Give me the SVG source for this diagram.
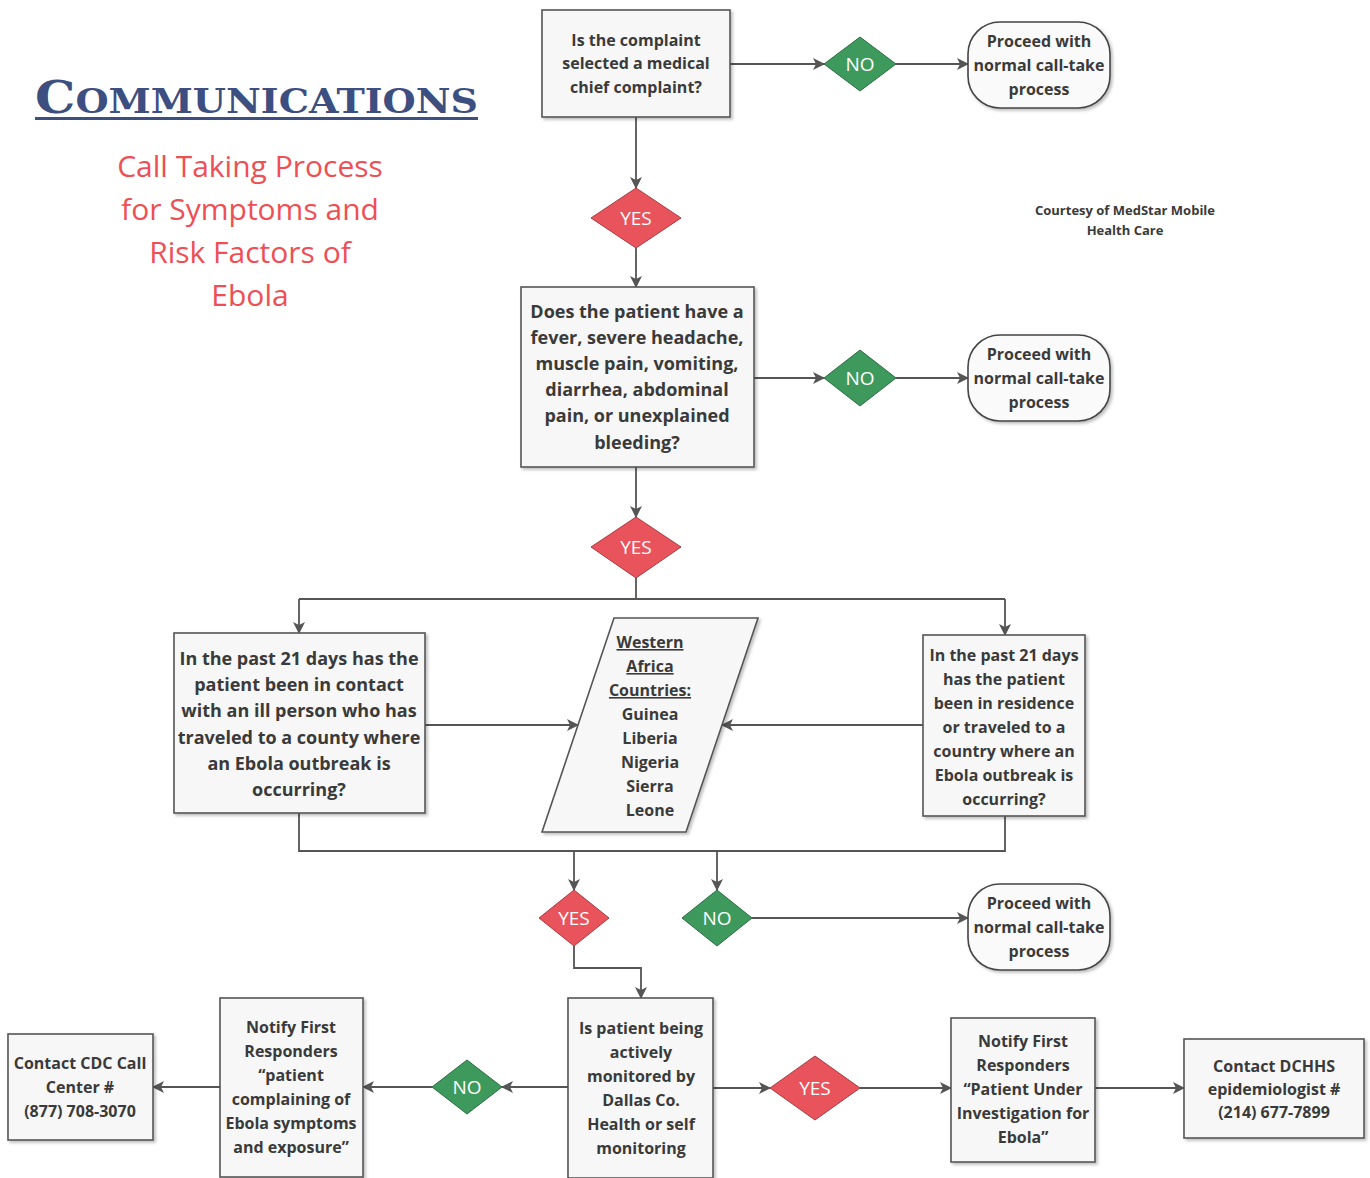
<svg xmlns="http://www.w3.org/2000/svg" width="1370" height="1178" viewBox="0 0 1370 1178">
<defs>
<marker id="ah" viewBox="0 0 12 12" refX="11" refY="6" markerWidth="12" markerHeight="12" markerUnits="userSpaceOnUse" orient="auto">
<path d="M0,0 L12,6 L0,12 L3,6 Z" fill="#555"/>
</marker>
<filter id="sh" x="-10%" y="-10%" width="125%" height="125%">
<feDropShadow dx="2" dy="2" stdDeviation="1.5" flood-color="#000" flood-opacity="0.25"/>
</filter>
</defs>
<style>
.box{fill:#f7f7f7;stroke:#555;stroke-width:1.6;filter:url(#sh)}
.term{fill:#fafafa;stroke:#444;stroke-width:1.6;filter:url(#sh)}
.t{font-family:"Open Sans","Noto Sans",sans-serif;font-weight:bold;fill:#3a3a3a;text-anchor:middle}
.s16{font-size:16px}
.s18{font-size:18px}
.g{fill:#3d9a5c;stroke:#2d6d45;stroke-width:1}
.r{fill:#e9545c;stroke:#a83a40;stroke-width:1}
.dt{font-family:"Open Sans","Noto Sans",sans-serif;font-size:19px;fill:#fff;text-anchor:middle}
.c{fill:none;stroke:#555;stroke-width:1.8}
.a{marker-end:url(#ah)}
.sub{font-family:"Open Sans","Noto Sans",sans-serif;font-size:30px;fill:#ee4f55;text-anchor:middle}
</style>
<rect width="1370" height="1178" fill="#fff"/>

<g id="title">
<text x="35" y="113" font-family="'DejaVu Serif','Liberation Serif',serif" font-weight="bold" fill="#3d4e80" textLength="443" lengthAdjust="spacingAndGlyphs"><tspan font-size="44">C</tspan><tspan font-size="33">OMMUNICATIONS</tspan></text>
<rect x="35" y="117" width="443" height="3" fill="#3d4e80"/>
<text class="sub" x="250" y="177">Call Taking Process</text>
<text class="sub" x="250" y="220">for Symptoms and</text>
<text class="sub" x="250" y="263">Risk Factors of</text>
<text class="sub" x="250" y="306">Ebola</text>
</g>
<g id="courtesy">
<text class="t" x="1125" y="215" font-size="13">Courtesy of MedStar Mobile</text>
<text class="t" x="1125" y="235" font-size="13">Health Care</text>
</g>

<g id="connectors">
<path class="c a" d="M730,64 H824"/>
<path class="c a" d="M896,64 H968"/>
<path class="c a" d="M636,117 V188"/>
<path class="c a" d="M636,248 V287"/>
<path class="c a" d="M754,378 H824"/>
<path class="c a" d="M896,378 H968"/>
<path class="c a" d="M636,467 V517"/>
<path class="c" d="M636,578 V599 M299,599 H1005"/>
<path class="c a" d="M299,599 V633"/>
<path class="c a" d="M1005,599 V635"/>
<path class="c a" d="M425,725 H578"/>
<path class="c a" d="M923,725 H722"/>
<path class="c" d="M299,813 V851 H1005 V816"/>
<path class="c a" d="M574,851 V890"/>
<path class="c a" d="M717,851 V890"/>
<path class="c a" d="M752,918 H968"/>
<path class="c a" d="M574,946 V968 H641 V998"/>
<path class="c a" d="M568,1087 H502"/>
<path class="c a" d="M432,1087 H363"/>
<path class="c a" d="M220,1087 H153"/>
<path class="c a" d="M713,1088 H770"/>
<path class="c a" d="M860,1088 H951"/>
<path class="c a" d="M1095,1088 H1184"/>
</g>

<g id="q1">
<rect class="box" x="542" y="10" width="188" height="107"/>
<text class="t s16" x="636" y="46">Is the complaint</text>
<text class="t s16" x="636" y="69">selected a medical</text>
<text class="t s16" x="636" y="93">chief complaint?</text>
</g>
<g id="no1">
<polygon class="g" points="860,37 896,64 860,91 824,64"/>
<text class="dt" x="860" y="71">NO</text>
</g>
<g id="term1">
<rect class="term" x="968" y="22" width="142" height="86" rx="32"/>
<text class="t s16" x="1039" y="47">Proceed with</text>
<text class="t s16" x="1039" y="71">normal call-take</text>
<text class="t s16" x="1039" y="95">process</text>
</g>
<g id="yes1">
<polygon class="r" points="636,188 681,218 636,248 591,218"/>
<text class="dt" x="636" y="225">YES</text>
</g>
<g id="q2">
<rect class="box" x="521" y="287" width="233" height="180"/>
<text class="t s18" x="637" y="318">Does the patient have a</text>
<text class="t s18" x="637" y="344">fever, severe headache,</text>
<text class="t s18" x="637" y="370">muscle pain, vomiting,</text>
<text class="t s18" x="637" y="396">diarrhea, abdominal</text>
<text class="t s18" x="637" y="422">pain, or unexplained</text>
<text class="t s18" x="637" y="449">bleeding?</text>
</g>
<g id="no2">
<polygon class="g" points="860,350 896,378 860,406 824,378"/>
<text class="dt" x="860" y="385">NO</text>
</g>
<g id="term2">
<rect class="term" x="968" y="335" width="142" height="86" rx="32"/>
<text class="t s16" x="1039" y="360">Proceed with</text>
<text class="t s16" x="1039" y="384">normal call-take</text>
<text class="t s16" x="1039" y="408">process</text>
</g>
<g id="yes2">
<polygon class="r" points="636,517 681,547 636,578 591,547"/>
<text class="dt" x="636" y="554">YES</text>
</g>
<g id="q3">
<rect class="box" x="174" y="633" width="251" height="180"/>
<text class="t s18" x="299" y="665">In the past 21 days has the</text>
<text class="t s18" x="299" y="691">patient been in contact</text>
<text class="t s18" x="299" y="717">with an ill person who has</text>
<text class="t s18" x="299" y="744">traveled to a county where</text>
<text class="t s18" x="299" y="770">an Ebola outbreak is</text>
<text class="t s18" x="299" y="796">occurring?</text>
</g>
<g id="countries">
<polygon class="box" points="614,618 758,618 686,832 542,832"/>
<text class="t s16" x="650" y="648" text-decoration="underline">Western</text>
<text class="t s16" x="650" y="672" text-decoration="underline">Africa</text>
<text class="t s16" x="650" y="696" text-decoration="underline">Countries:</text>
<text class="t s16" x="650" y="720">Guinea</text>
<text class="t s16" x="650" y="744">Liberia</text>
<text class="t s16" x="650" y="768">Nigeria</text>
<text class="t s16" x="650" y="792">Sierra</text>
<text class="t s16" x="650" y="816">Leone</text>
</g>
<g id="q4">
<rect class="box" x="923" y="635" width="162" height="181"/>
<text class="t s16" x="1004" y="661">In the past 21 days</text>
<text class="t s16" x="1004" y="685">has the patient</text>
<text class="t s16" x="1004" y="709">been in residence</text>
<text class="t s16" x="1004" y="733">or traveled to a</text>
<text class="t s16" x="1004" y="757">country where an</text>
<text class="t s16" x="1004" y="781">Ebola outbreak is</text>
<text class="t s16" x="1004" y="805">occurring?</text>
</g>
<g id="yes3">
<polygon class="r" points="574,890 609,918 574,946 539,918"/>
<text class="dt" x="574" y="925">YES</text>
</g>
<g id="no3">
<polygon class="g" points="717,890 752,918 717,946 682,918"/>
<text class="dt" x="717" y="925">NO</text>
</g>
<g id="term3">
<rect class="term" x="968" y="884" width="142" height="86" rx="32"/>
<text class="t s16" x="1039" y="909">Proceed with</text>
<text class="t s16" x="1039" y="933">normal call-take</text>
<text class="t s16" x="1039" y="957">process</text>
</g>
<g id="q5">
<rect class="box" x="568" y="998" width="145" height="180"/>
<text class="t s16" x="641" y="1034">Is patient being</text>
<text class="t s16" x="641" y="1058">actively</text>
<text class="t s16" x="641" y="1082">monitored by</text>
<text class="t s16" x="641" y="1106">Dallas Co.</text>
<text class="t s16" x="641" y="1130">Health or self</text>
<text class="t s16" x="641" y="1154">monitoring</text>
</g>
<g id="no4">
<polygon class="g" points="467,1060 502,1087 467,1114 432,1087"/>
<text class="dt" x="467" y="1094">NO</text>
</g>
<g id="notify1">
<rect class="box" x="220" y="998" width="143" height="179"/>
<text class="t s16" x="291" y="1033">Notify First</text>
<text class="t s16" x="291" y="1057">Responders</text>
<text class="t s16" x="291" y="1081">“patient</text>
<text class="t s16" x="291" y="1105">complaining of</text>
<text class="t s16" x="291" y="1129">Ebola symptoms</text>
<text class="t s16" x="291" y="1153">and exposure”</text>
</g>
<g id="cdc">
<rect class="box" x="8" y="1034" width="145" height="106"/>
<text class="t s16" x="80" y="1069">Contact CDC Call</text>
<text class="t s16" x="80" y="1093">Center #</text>
<text class="t s16" x="80" y="1117">(877) 708-3070</text>
</g>
<g id="yes4">
<polygon class="r" points="815,1056 860,1088 815,1120 770,1088"/>
<text class="dt" x="815" y="1095">YES</text>
</g>
<g id="notify2">
<rect class="box" x="951" y="1018" width="144" height="144"/>
<text class="t s16" x="1023" y="1047">Notify First</text>
<text class="t s16" x="1023" y="1071">Responders</text>
<text class="t s16" x="1023" y="1095">“Patient Under</text>
<text class="t s16" x="1023" y="1119">Investigation for</text>
<text class="t s16" x="1023" y="1143">Ebola”</text>
</g>
<g id="dchhs">
<rect class="box" x="1184" y="1039" width="180" height="99"/>
<text class="t s16" x="1274" y="1072">Contact DCHHS</text>
<text class="t s16" x="1274" y="1095">epidemiologist #</text>
<text class="t s16" x="1274" y="1118">(214) 677-7899</text>
</g>
</svg>
